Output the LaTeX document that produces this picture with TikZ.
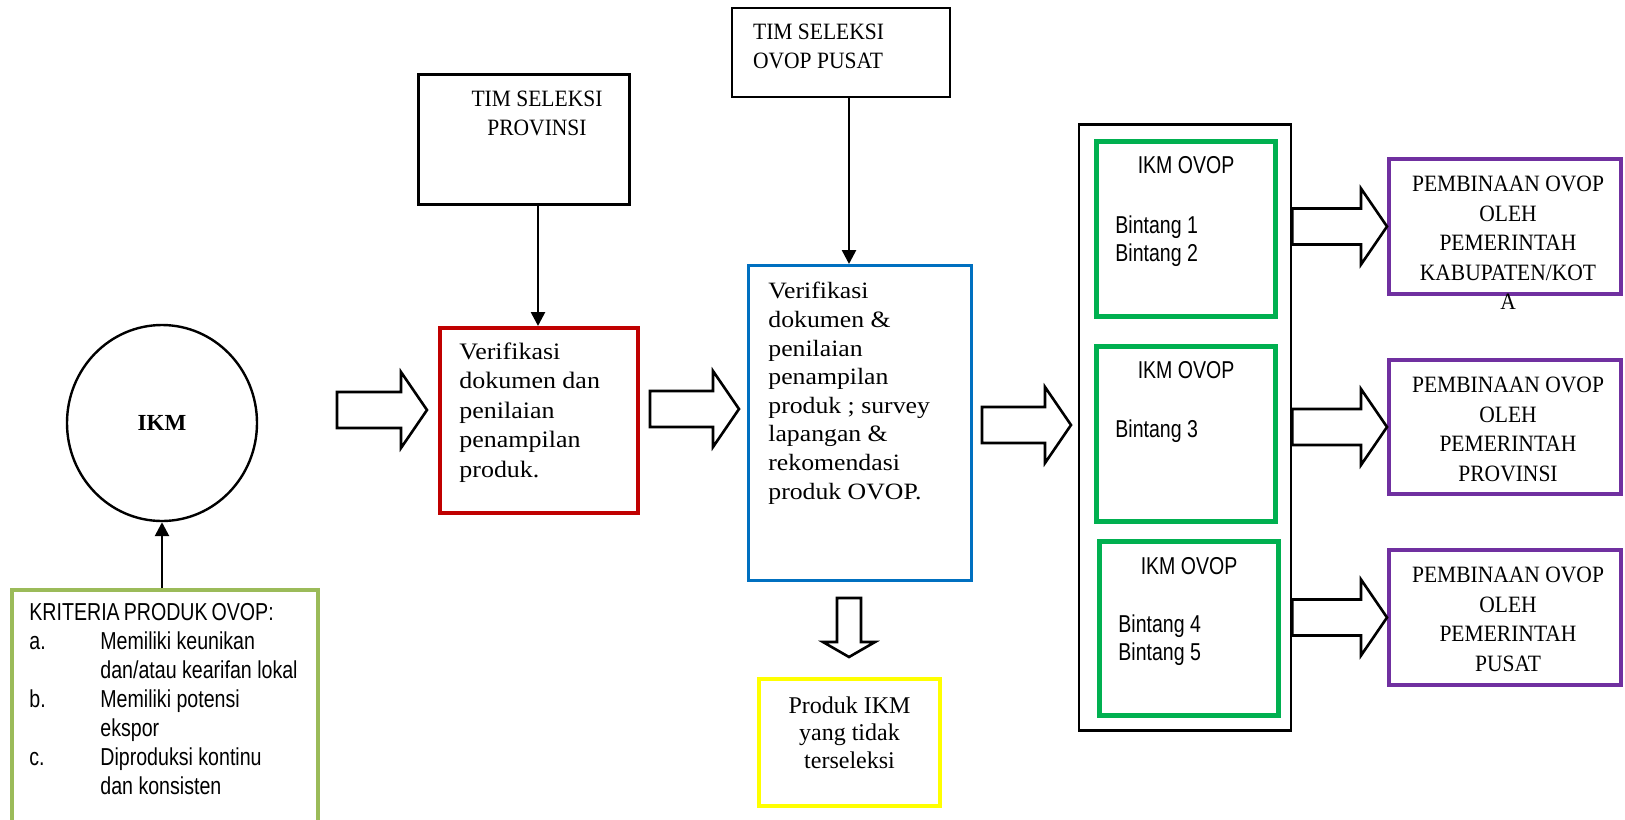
\documentclass[tikz,border=0pt]{standalone}
\usepackage{fontspec}
\usepackage{tikz}
\usetikzlibrary{arrows.meta, positioning, shapes.geometric, calc}

\newfontfamily\sansnarrow[FakeStretch=0.8]{Liberation Sans}
\newfontfamily\serifcap[FakeStretch=0.92]{Liberation Serif}
\newfontfamily\serifwide[FakeStretch=1.1]{Liberation Serif}
\newfontfamily\serifplain{Liberation Serif}

\definecolor{kriteriagreen}{HTML}{9BBB59}
\definecolor{ovopred}{HTML}{C00000}
\definecolor{ovopblue}{HTML}{0070C0}
\definecolor{ovopgreen}{HTML}{00B050}
\definecolor{ovoppurple}{HTML}{7030A0}
\definecolor{ovopyellow}{HTML}{FFFF00}

\tikzset{
  frame/.style={draw, rectangle, inner sep=0pt},
  hollow/.style={draw, fill=white, line width=1.3pt, line join=miter},
  feed/.style={-{Triangle[length=7pt,width=7pt]}, line width=1.3pt},
  captext/.style={inner sep=0pt, align=center, font={\serifcap\fontsize{11.7}{14.5}\selectfont}},
  pembinaan/.style={inner sep=0pt, align=center, font={\serifcap\fontsize{11.7}{14.75}\selectfont}},
  bodytext/.style={inner sep=0pt, align=left, font={\serifwide\fontsize{11.8}{14.75}\selectfont}},
  plaintext/.style={inner sep=0pt, align=center, font={\serifplain\fontsize{12}{13.7}\selectfont}},
  kriteriatext/.style={inner sep=0pt, font={\sansnarrow\fontsize{12.25}{14.5}\selectfont}},
  startext/.style={inner sep=0pt, align=left, font={\sansnarrow\fontsize{12.2}{14}\selectfont}},
}

% hollow block arrow, #1 = tail, #2 = tip (horizontal)
\newcommand{\blockarrow}[2]{%
  \draw [hollow] ($(#1)+(0,18)$) -- ($(#2)+(-26,18)$) -- ($(#2)+(-26,38)$) -- (#2)
    -- ($(#2)+(-26,-38)$) -- ($(#2)+(-26,-18)$) -- ($(#1)+(0,-18)$) -- cycle;}

\begin{document}
\begin{tikzpicture}[x=0.5pt, y=0.5pt]

	\fill [white] (0,0) rectangle (1625,-819);
	\useasboundingbox (0,0) rectangle (1625,-819);

	\node (ikm)
		[ellipse, draw, line width=1.2pt, minimum width=95pt, minimum height=98pt, inner sep=0pt,
		 font={\serifplain\bfseries\fontsize{11.5}{13}\selectfont}] at (162,-423) {IKM};

	\node (kriteria)
		[frame, draw=kriteriagreen, line width=2pt, minimum width=153pt, minimum height=135pt] at (165,-725) {};
		\node (kriteriaisi)
			[kriteriatext, anchor=north west, below right=6pt and 9.5pt of kriteria.north west] {%
			\begin{tabular}{@{}p{35.5pt}@{}l@{}}
			\multicolumn{2}{@{}l@{}}{\spaceskip=2pt KRITERIA PRODUK OVOP:}\\
			a. & Memiliki keunikan\\
			   & dan/atau kearifan lokal\\
			b. & Memiliki potensi\\
			   & ekspor\\
			c. & Diproduksi kontinu\\
			   & dan konsisten
			\end{tabular}};

	\node (provinsi)
		[frame, line width=1.3pt, minimum width=105.5pt, minimum height=65pt] at (524,-139.5) {};
		\node (provinsiisi)
			[captext, below=8.5pt of provinsi.north, xshift=6.5pt] {TIM SELEKSI\\PROVINSI};

	\node (pusat)
		[frame, line width=1.3pt, minimum width=109pt, minimum height=44.5pt] at (841,-52.5) {};
		\node (pusatisi)
			[captext, align=left, below right=8.5pt and 11pt of pusat.north west] {TIM SELEKSI\\OVOP PUSAT};

	\node (verprov)
		[frame, draw=ovopred, line width=2pt, minimum width=99pt, minimum height=92.5pt] at (539,-420.5) {};
		\node (verprovisi)
			[bodytext, below right=8pt and 10.5pt of verprov.north west]
			{Verifikasi\\dokumen dan\\penilaian\\penampilan\\produk.};

	\node (verpusat)
		[frame, draw=ovopblue, line width=1.5pt, minimum width=111.5pt, minimum height=157.5pt] at (860,-423) {};
		\node (verpusatisi)
			[bodytext, font={\serifwide\fontsize{11.7}{14.3}\selectfont}, below right=9pt and 10.5pt of verpusat.north west]
			{Verifikasi\\dokumen \&\\penilaian\\penampilan\\produk ; survey\\lapangan \&\\rekomendasi\\produk OVOP.};

	\node (gagal)
		[frame, draw=ovopyellow, line width=2pt, minimum width=90.5pt, minimum height=63.5pt] at (849.5,-742.5) {};
		\node (gagalisi)
			[plaintext] at ([yshift=5pt]gagal.center) {Produk IKM\\yang tidak\\terseleksi};

	\node (ovop)
		[frame, line width=1.3pt, minimum width=106pt, minimum height=303pt] at (1185,-427.5) {};

		\node (b12)
			[frame, draw=ovopgreen, line width=2.5pt, minimum width=89.5pt, minimum height=87.5pt] at (1186,-229) {};
			\node (b12judul) [startext, below=8.5pt of b12.north] {IKM OVOP};
			\node (b12isi) [startext, below right=38pt and 10.5pt of b12.north west] {Bintang 1\\Bintang 2};

		\node (b3)
			[frame, draw=ovopgreen, line width=2.5pt, minimum width=89.5pt, minimum height=87.5pt] at (1186,-434) {};
			\node (b3judul) [startext, below=8.5pt of b3.north] {IKM OVOP};
			\node (b3isi) [startext, below right=37.5pt and 10.5pt of b3.north west] {Bintang 3};

		\node (b45)
			[frame, draw=ovopgreen, line width=2.5pt, minimum width=89.5pt, minimum height=87pt] at (1189,-628.5) {};
			\node (b45judul) [startext, below=9pt of b45.north] {IKM OVOP};
			\node (b45isi) [startext, below right=37.5pt and 10.5pt of b45.north west] {Bintang 4\\Bintang 5};

	\node (kabkota)
		[frame, draw=ovoppurple, line width=2pt, minimum width=116pt, minimum height=67.5pt] at (1505,-226.5) {};
		\node (kabkotaisi)
			[pembinaan, below=9.5pt of kabkota.north, xshift=1.5pt]
			{PEMBINAAN OVOP\\OLEH\\PEMERINTAH\\KABUPATEN/KOT\\A};

	\node (prov)
		[frame, draw=ovoppurple, line width=2pt, minimum width=116pt, minimum height=67pt] at (1505,-427) {};
		\node (provisi)
			[pembinaan, below=9.5pt of prov.north, xshift=1.5pt]
			{PEMBINAAN OVOP\\OLEH\\PEMERINTAH\\PROVINSI};

	\node (pst)
		[frame, draw=ovoppurple, line width=2pt, minimum width=116pt, minimum height=67.5pt] at (1505,-617.5) {};
		\node (pstisi)
			[pembinaan, below=9.5pt of pst.north, xshift=1.5pt]
			{PEMBINAAN OVOP\\OLEH\\PEMERINTAH\\PUSAT};

	\coordinate (provkaki) at ([xshift=7pt]provinsi.south);
	\coordinate (pusatkaki) at ([xshift=4pt]pusat.south);

	\draw [feed] (ikm.south |- kriteria.north) -- (ikm.south);
	\draw [feed] (provkaki) -- (provkaki |- verprov.north);
	\draw [feed] (pusatkaki) -- (pusatkaki |- verpusat.north);

	\coordinate (a1s) at (337,-410);
	\coordinate (a1e) at (427,-410);
	\coordinate (a2s) at (650,-409);
	\coordinate (a2e) at (739,-409);
	\coordinate (a3s) at (982,-425);
	\coordinate (a3e) at (1071,-425);
	\coordinate (r1s) at (ovop.east |- kabkota.west);
	\coordinate (r2s) at (ovop.east |- prov.west);
	\coordinate (r3s) at (ovop.east |- pst.west);

	\blockarrow{a1s}{a1e}
	\blockarrow{a2s}{a2e}
	\blockarrow{a3s}{a3e}
	\blockarrow{r1s}{kabkota.west}
	\blockarrow{r2s}{prov.west}
	\blockarrow{r3s}{pst.west}

	% arrow down to the rejected products
	\coordinate (d0) at (849,-598);
	\coordinate (d1) at (849,-657);
	\draw [hollow] ($(d0)+(-12,0)$) -- ($(d1)+(-12,15)$) -- ($(d1)+(-26,15)$) -- (d1)
		-- ($(d1)+(26,15)$) -- ($(d1)+(12,15)$) -- ($(d0)+(12,0)$) -- cycle;

\end{tikzpicture}
\end{document}
